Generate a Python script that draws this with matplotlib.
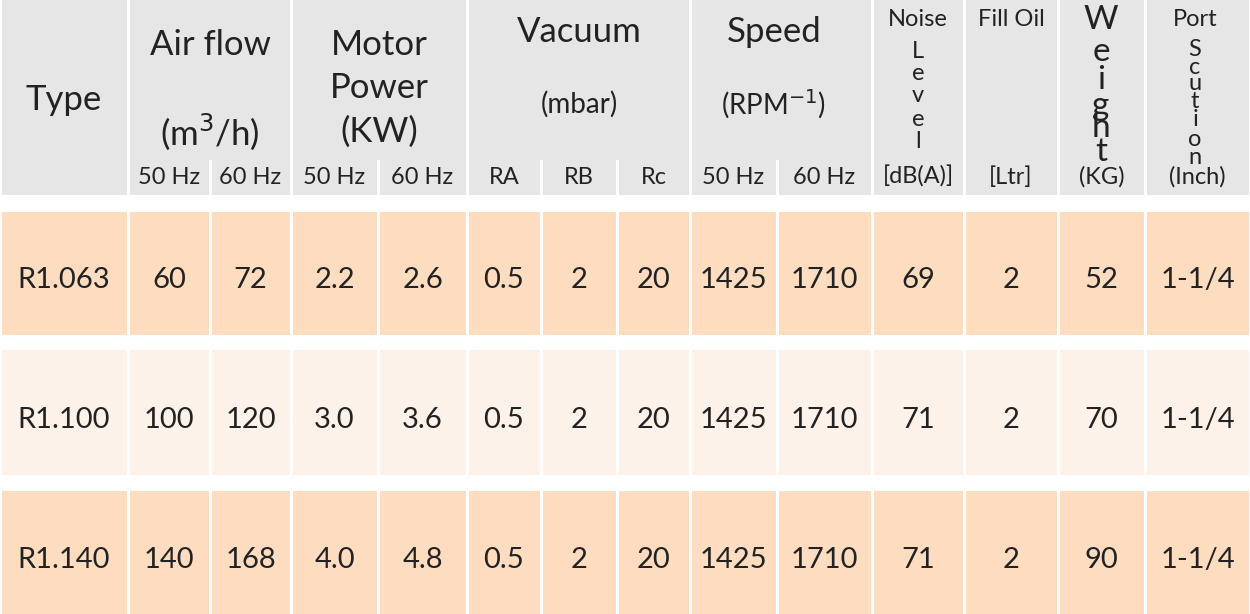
import matplotlib.pyplot as plt
from matplotlib.patches import Rectangle

plt.rcParams['font.family'] = ['Lato', 'DejaVu Sans']

types = ['R1.063', 'R1.100', 'R1.140']
air_50 = [60, 100, 140]
air_60 = [72, 120, 168]
power_50 = ['2.2', '3.0', '4.0']
power_60 = ['2.6', '3.6', '4.8']
vac_ra = ['0.5', '0.5', '0.5']
vac_rb = [2, 2, 2]
vac_rc = [20, 20, 20]
speed_50 = [1425, 1425, 1425]
speed_60 = [1710, 1710, 1710]
noise = [69, 71, 71]
fill_oil = [2, 2, 2]
weight = [52, 70, 90]
port = ['1-1/4', '1-1/4', '1-1/4']

sub_labels = ['', '50 Hz', '60 Hz', '50 Hz', '60 Hz', 'RA', 'RB', 'Rc',
              '50 Hz', '60 Hz', '[dB(A)]', '[Ltr]', '(KG)', '(Inch)']

# column edges in pixels
xs = [0, 128, 210, 291, 378, 467, 541, 617, 690, 777, 872, 964, 1058, 1145, 1250]
rows_y = [(212, 335), (350, 475), (491, 614)]
row_colors = ['#fddcc0', '#fdf2ea', '#fddcc0']
head_col = '#e6e6e6'
txt = '#222222'

fig = plt.figure(figsize=(12.5, 6.14), dpi=100)
ax = fig.add_axes([0, 0, 1, 1])
ax.set_xlim(0, 1250)
ax.set_ylim(614, 0)
ax.axis('off')

# header background
groups = [(0, 1), (1, 3), (3, 5), (5, 8), (8, 10), (10, 11), (11, 12), (12, 13), (13, 14)]
for a, b in groups:
    ax.add_patch(Rectangle((xs[a] + 1.5, 0), xs[b] - xs[a] - 3, 160, color=head_col, lw=0))
for i in range(14):
    ax.add_patch(Rectangle((xs[i] + 1.5, 158), xs[i + 1] - xs[i] - 3, 37, color=head_col, lw=0))

fs = 25
ax.text(64, 100, 'Type', ha='center', va='center', fontsize=fs, color=txt)
ax.text(210, 45, 'Air flow', ha='center', va='center', fontsize=fs, color=txt)
ax.text(210, 132, '(m$^3$/h)', ha='center', va='center', fontsize=fs, color=txt)
ax.text(379, 45, 'Motor', ha='center', va='center', fontsize=fs, color=txt)
ax.text(379, 88, 'Power', ha='center', va='center', fontsize=fs, color=txt)
ax.text(379, 132, '(KW)', ha='center', va='center', fontsize=fs, color=txt)
ax.text(579, 32, 'Vacuum', ha='center', va='center', fontsize=fs, color=txt)
ax.text(579, 104, '(mbar)', ha='center', va='center', fontsize=20, color=txt)
ax.text(774, 32, 'Speed', ha='center', va='center', fontsize=fs, color=txt)
ax.text(774, 104, '(RPM$^{-1}$)', ha='center', va='center', fontsize=20, color=txt)

ax.text(918, 20, 'Noise', ha='center', va='center', fontsize=17, color=txt)
ax.text(1011, 20, 'Fill Oil', ha='center', va='center', fontsize=17, color=txt)
ax.text(1195, 20, 'Port', ha='center', va='center', fontsize=17, color=txt)


def stack(x, letters, ys, size):
    for ch, y in zip(letters, ys):
        ax.text(x, y, ch, ha='center', va='center', fontsize=size, color=txt)


stack(918, 'Level', [52, 73, 96, 119, 142], 17)
stack(1101, 'Weight', [20, 52, 80, 106, 128, 152], 24)
stack(1195, 'Scution', [50, 68, 84, 101, 120, 140, 158], 17)

for i, lab in enumerate(sub_labels):
    if lab:
        ax.text((xs[i] + xs[i + 1]) / 2, 177, lab, ha='center', va='center',
                fontsize=17, color=txt)

cols = [types, air_50, air_60, power_50, power_60, vac_ra, vac_rb, vac_rc,
        speed_50, speed_60, noise, fill_oil, weight, port]
for r, (y0, y1) in enumerate(rows_y):
    for c in range(14):
        ax.add_patch(Rectangle((xs[c] + 1.5, y0), xs[c + 1] - xs[c] - 3, y1 - y0,
                               color=row_colors[r], lw=0))
        ax.text((xs[c] + xs[c + 1]) / 2, (y0 + y1) / 2 + 7, str(cols[c][r]),
                ha='center', va='center', fontsize=21, color=txt)

fig.savefig('out.png', dpi=100)
